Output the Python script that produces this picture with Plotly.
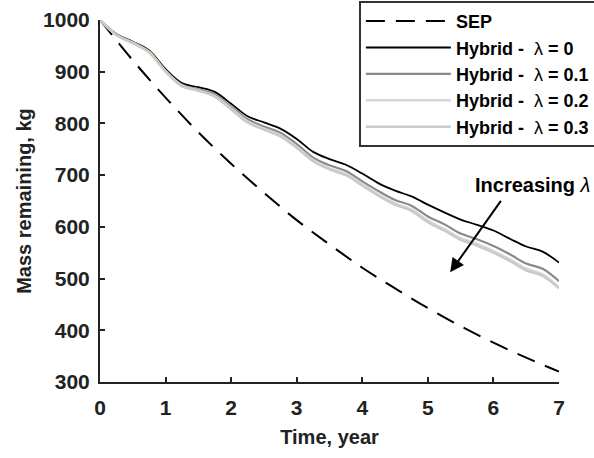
import plotly.graph_objects as go

# ---- data ----
t_sep = [0, 0.5, 1, 1.5, 2, 2.5, 3, 3.5, 4, 4.5, 5, 5.5, 6, 6.5, 7]
m_sep = [1000, 922, 850, 783, 722, 666, 613, 566, 521, 481, 443, 408, 376, 347, 320]

t_hyb = [0, 0.25, 0.5, 0.75, 1, 1.25, 1.5, 1.75, 2, 2.25, 2.5, 2.75, 3, 3.25, 3.5,
         3.75, 4, 4.25, 4.5, 4.75, 5, 5.25, 5.5, 5.75, 6, 6.25, 6.5, 6.75, 7]
m_l0 = [1000, 973, 958, 941, 905, 878, 870, 861, 838, 814, 802, 790, 770, 745, 731,
        720, 703, 684, 670, 659, 643, 628, 614, 604, 593, 577, 562, 552, 531]
m_l1 = [1000, 972, 957, 939, 902, 875, 866, 856, 832, 808, 794, 782, 760, 734, 719,
        708, 688, 669, 652, 641, 620, 605, 587, 576, 563, 547, 529, 519, 495]
m_l2 = [1000, 971, 956, 938, 901, 873, 864, 853, 829, 804, 790, 777, 755, 729, 713,
        702, 682, 662, 645, 634, 612, 596, 578, 567, 553, 537, 519, 508, 483]
m_l3 = [1000, 971, 955, 937, 900, 872, 863, 852, 827, 802, 788, 775, 753, 727, 711,
        700, 680, 660, 643, 631, 609, 593, 575, 564, 550, 534, 516, 505, 481]

x_ticks = [0, 1, 2, 3, 4, 5, 6, 7]
y_ticks = [300, 400, 500, 600, 700, 800, 900, 1000]

FONT = "Arial, Liberation Sans, sans-serif"
LAM = "<span style='font-weight:normal'>λ</span>"

fig = go.Figure()
fig.add_trace(go.Scatter(x=t_sep, y=m_sep, mode="lines", name="SEP",
                         line=dict(color="black", width=2, dash="19px,11px", shape="spline")))
fig.add_trace(go.Scatter(x=t_hyb, y=m_l0, mode="lines", name=f"Hybrid -  {LAM} = 0",
                         line=dict(color="#000000", width=1.8, shape="spline")))
fig.add_trace(go.Scatter(x=t_hyb, y=m_l1, mode="lines", name=f"Hybrid -  {LAM} = 0.1",
                         line=dict(color="#8a8a8a", width=2.2, shape="spline")))
fig.add_trace(go.Scatter(x=t_hyb, y=m_l2, mode="lines", name=f"Hybrid -  {LAM} = 0.2",
                         line=dict(color="#d6d6d6", width=2.5, shape="spline")))
fig.add_trace(go.Scatter(x=t_hyb, y=m_l3, mode="lines", name=f"Hybrid -  {LAM} = 0.3",
                         line=dict(color="#cdcac2", width=2.5, shape="spline")))

fig.add_annotation(x=6.59, y=680, xref="x", yref="y", text=f"<b>Increasing</b> <i>λ</i>",
                   showarrow=False, font=dict(family=FONT, size=20, color="black"))
fig.add_annotation(x=5.34, y=512, ax=6.13, ay=653, xref="x", yref="y", axref="x", ayref="y",
                   text="", showarrow=True, arrowhead=2, arrowsize=1.4, arrowwidth=2,
                   arrowcolor="black")

axis_common = dict(showline=True, linecolor="#222", linewidth=2, ticks="inside",
                   ticklen=5, tickwidth=1.5, tickcolor="#222", showgrid=False,
                   zeroline=False, mirror=False, automargin=False,
                   tickfont=dict(family=FONT, size=21, color="#222", weight="bold"))

fig.update_xaxes(range=[0, 7], tickvals=x_ticks, ticktext=[str(v) for v in x_ticks],
                 title=dict(text="<b>Time, year</b>", font=dict(family=FONT, size=20, color="#222"),
                            standoff=12),
                 ticklabelstandoff=6, **axis_common)
fig.update_yaxes(range=[300, 1000], tickvals=y_ticks, ticktext=[str(v) for v in y_ticks],
                 title=dict(text="<b>Mass remaining, kg</b>", font=dict(family=FONT, size=20, color="#222"),
                            standoff=6),
                 ticklabelstandoff=4, **axis_common)

fig.update_layout(
    width=594, height=458,
    margin=dict(l=100, r=35, t=20, b=76, autoexpand=False),
    paper_bgcolor="white", plot_bgcolor="white",
    font=dict(family=FONT, size=17, color="black"),
    legend=dict(x=0.564, y=0.998, xanchor="left", yanchor="top", yref="container",
                bgcolor="white", bordercolor="#333", borderwidth=2,
                font=dict(family=FONT, size=18, color="black", weight="bold"),
                itemwidth=85),
    showlegend=True,
)

fig.write_html("out.html")
